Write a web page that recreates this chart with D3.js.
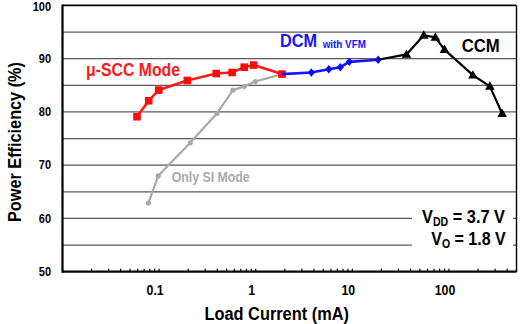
<!DOCTYPE html>
<html>
<head>
<meta charset="utf-8">
<script src="https://cdn.jsdelivr.net/npm/d3@7"></script>
<style>
  body { margin: 0; background: #fff; }
  text { font-family: "Liberation Sans", Arial, sans-serif; font-weight: bold; }
</style>
</head>
<body>
<script>
//Size of the picture
var width = 522;
var height = 324;

//Plot box (note: "top" is taken by window.top, so prefix everything)
var box_left = 62.5, box_right = 516.5, box_top = 5.4, box_bottom = 271.7;

//Data (load current in mA, efficiency in %)
var scc_x = [0.059, 0.078, 0.099, 0.196, 0.39, 0.57, 0.76, 0.95, 1.87];
var scc_y = [79.1, 82.1, 84.1, 85.9, 87.2, 87.4, 88.4, 88.8, 87.1];

var dcm_x = [1.87, 3.76, 5.7, 7.5, 9.3, 18.5];
var dcm_y = [87.1, 87.4, 88.0, 88.4, 89.4, 89.8];

var ccm_x = [18.5, 36.3, 54.8, 72.4, 89.8, 177, 265, 355];
var ccm_y = [89.8, 90.8, 94.4, 94.0, 91.7, 86.9, 84.8, 79.7];

var si_x = [0.0775, 0.098, 0.21, 0.396, 0.58, 0.76, 0.99, 1.87];
var si_y = [62.9, 68.0, 74.2, 79.7, 84.1, 84.8, 85.7, 87.1];

//Axis ticks
var x_labels = [0.1, 1, 10, 100];
var y_labels = [50, 60, 70, 80, 90, 100];
var y_grid = [55, 60, 65, 70, 75, 80, 85, 90, 95];

//Scales
var x = d3.scaleLog().domain([0.01, 500]).range([box_left, box_right]);
var y = d3.scaleLinear().domain([50, 100]).range([box_bottom, box_top]);

var svg = d3.select("body").append("svg")
  .attr("width", width)
  .attr("height", height);

//text in the figure is a bit narrow, squeeze it horizontally
var squeeze = 0.88;
function label(px, py, str, size, color, anchor) {
  return svg.append("g")
    .attr("transform", "translate(" + px + "," + py + ") scale(" + squeeze + ",1)")
    .append("text")
    .attr("font-size", size)
    .attr("fill", color || "#000")
    .attr("text-anchor", anchor || "start")
    .text(str);
}

//Horizontal grid
svg.append("g").selectAll("line")
  .data(y_grid)
  .enter()
  .append("line")
  .attr("x1", box_left).attr("x2", box_right)
  .attr("y1", function(d) { return y(d); })
  .attr("y2", function(d) { return y(d); })
  .attr("stroke", "#5a5a5a")
  .attr("stroke-width", 1.3);

//White box behind the supply annotation
svg.append("rect")
  .attr("x", 412).attr("y", 197)
  .attr("width", 101).attr("height", 56)
  .attr("fill", "#fff");

//Frame
svg.append("line").attr("x1", box_left).attr("x2", box_right).attr("y1", box_top).attr("y2", box_top)
  .attr("stroke", "#000").attr("stroke-width", 1.6);
svg.append("line").attr("x1", box_right).attr("x2", box_right).attr("y1", box_top).attr("y2", box_bottom)
  .attr("stroke", "#000").attr("stroke-width", 1.4);

//Log ticks along the bottom, pointing inside
svg.append("g").selectAll("line")
  .data(x.ticks())
  .enter()
  .append("line")
  .attr("x1", function(d) { return x(d); })
  .attr("x2", function(d) { return x(d); })
  .attr("y1", box_bottom).attr("y2", box_bottom - 3)
  .attr("stroke", "#000").attr("stroke-width", 1.2);

svg.append("line").attr("x1", box_left).attr("x2", box_right).attr("y1", box_bottom).attr("y2", box_bottom)
  .attr("stroke", "#000").attr("stroke-width", 2.2);
svg.append("line").attr("x1", box_left).attr("x2", box_left).attr("y1", box_top - 0.8).attr("y2", box_bottom + 1)
  .attr("stroke", "#000").attr("stroke-width", 2.2);

//Tick labels
x_labels.forEach(function(d) {
  label(x(d) - 4, 295, d3.format("~g")(d), 14, "#000", "middle");
});
y_labels.forEach(function(d) {
  label(51, Math.max(y(d) + 4.3, 11), d, 12.5, "#000", "end");
});

//Axis titles
label(276.7, 320, "Load Current (mA)", 18.6, "#000", "middle");
svg.append("g")
  .attr("transform", "translate(21,142) rotate(-90) scale(" + squeeze + ",1)")
  .append("text")
  .attr("font-size", 18.5)
  .attr("text-anchor", "middle")
  .text("Power Efficiency (%)");

//Series lines
function series(xs, ys) {
  return xs.map(function(d, i) { return [d, ys[i]]; });
}
var line = d3.line()
  .x(function(d) { return x(d[0]); })
  .y(function(d) { return y(d[1]); });

function draw_line(pts, color, w) {
  svg.append("path")
    .attr("d", line(pts))
    .attr("fill", "none")
    .attr("stroke", color)
    .attr("stroke-width", w)
    .attr("stroke-linejoin", "round");
}

var si = series(si_x, si_y);
var scc = series(scc_x, scc_y);
var dcm = series(dcm_x, dcm_y);
var ccm = series(ccm_x, ccm_y);

//Only SI mode (grey, small dots)
draw_line(si, "#a9a9a9", 2.2);
svg.append("g").selectAll("circle")
  .data(si.slice(0, -1))
  .enter()
  .append("circle")
  .attr("cx", function(d) { return x(d[0]); })
  .attr("cy", function(d) { return y(d[1]); })
  .attr("r", 2.6)
  .attr("fill", "#a9a9a9");

//u-SCC mode (red squares)
draw_line(scc, "#ff1a1a", 2.6);
svg.append("g").selectAll("rect")
  .data(scc)
  .enter()
  .append("rect")
  .attr("x", function(d) { return x(d[0]) - 3.8; })
  .attr("y", function(d) { return y(d[1]) - 3.8; })
  .attr("width", 7.6).attr("height", 7.6)
  .attr("fill", "#ff0a0a");

//DCM with VFM (blue diamonds)
draw_line(dcm, "#1414ff", 2.6);
svg.append("g").selectAll("path")
  .data(dcm.slice(1))
  .enter()
  .append("path")
  .attr("d", function(d) {
    var cx = x(d[0]), cy = y(d[1]);
    return "M" + cx + "," + (cy - 4.2) + "L" + (cx + 3.6) + "," + cy +
      "L" + cx + "," + (cy + 4.2) + "L" + (cx - 3.6) + "," + cy + "Z";
  })
  .attr("fill", "#0a0aff");

//CCM (black triangles)
draw_line(ccm, "#000", 2.2);
svg.append("g").selectAll("path")
  .data(ccm.slice(1))
  .enter()
  .append("path")
  .attr("d", function(d) {
    var cx = x(d[0]), cy = y(d[1]);
    return "M" + cx + "," + (cy - 5) + "L" + (cx + 4.8) + "," + (cy + 3.4) +
      "L" + (cx - 4.8) + "," + (cy + 3.4) + "Z";
  })
  .attr("fill", "#000");

//Mode labels
label(86, 76, "\u03bc-SCC Mode", 18, "#ff1a1a");
label(280, 46.7, "DCM", 18.5, "#1414ff");
label(322.7, 47.7, "with VFM", 11.2, "#1414ff");
label(461.7, 51.7, "CCM", 19, "#000");
label(171.7, 181.7, "Only SI Mode", 14, "#a9a9a9");

//Supply annotation
var vdd = label(505, 222.7, "", 18.6, "#000", "end");
vdd.append("tspan").text("V");
vdd.append("tspan").attr("font-size", 12).attr("dy", 3).text("DD");
vdd.append("tspan").attr("dy", -3).text(" = 3.7 V");

var vo = label(505.7, 245, "", 18.2, "#000", "end");
vo.append("tspan").text("V");
vo.append("tspan").attr("font-size", 12).attr("dy", 3).text("O");
vo.append("tspan").attr("dy", -3).text(" = 1.8 V");
</script>
</body>
</html>
